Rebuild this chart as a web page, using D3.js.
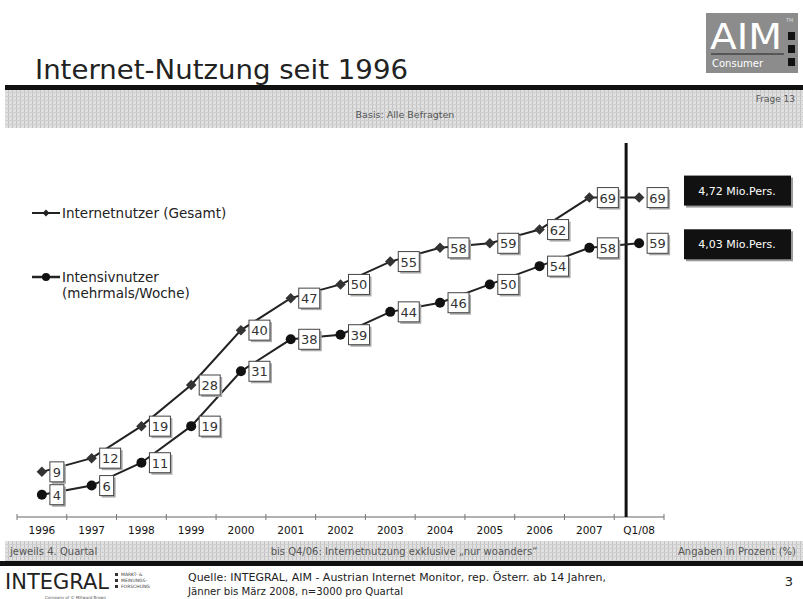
<!DOCTYPE html>
<html>
<head>
<meta charset="utf-8">
<script src="https://cdn.jsdelivr.net/npm/d3@7"></script>
<style>
	body { margin: 0; background: #fff; }
	svg text { font-family: "DejaVu Sans", Verdana, sans-serif; }
</style>
</head>
<body>
<div id="chart"></div>
<script>
var years = ["1996", "1997", "1998", "1999", "2000", "2001", "2002",
	"2003", "2004", "2005", "2006", "2007", "Q1/08"];
var gesamt = [9, 12, 19, 28, 40, 47, 50, 55, 58, 59, 62, 69, 69];
var intensiv = [4, 6, 11, 19, 31, 38, 39, 44, 46, 50, 54, 58, 59];
var seriesNames = ["Internetnutzer (Gesamt)", "Intensivnutzer", "(mehrmals/Woche)"];
var mioLabels = ["4,72 Mio.Pers.", "4,03 Mio.Pers."];

var width = 803,
	height = 599;

var svg = d3.select("#chart").append("svg")
	.attr("width", width)
	.attr("height", height);

// hatched grey band pattern
var defs = svg.append("defs");
var pat = defs.append("pattern")
	.attr("id", "grid")
	.attr("width", 4)
	.attr("height", 4)
	.attr("patternUnits", "userSpaceOnUse");
pat.append("rect").attr("width", 4).attr("height", 4).attr("fill", "#e0e0e0");
pat.append("rect").attr("x", 0).attr("width", 1).attr("height", 4).attr("fill", "#c2c2c2");
pat.append("rect").attr("y", 0).attr("width", 4).attr("height", 1).attr("fill", "#cfcfcf");

// header
svg.append("text")
	.attr("x", 35)
	.attr("y", 79)
	.attr("font-size", 27)
	.attr("fill", "#222")
	.attr("textLength", 373)
	.attr("lengthAdjust", "spacingAndGlyphs")
	.text("Internet-Nutzung seit 1996");

var logo = svg.append("g");
logo.append("rect")
	.attr("x", 706).attr("y", 13).attr("width", 92).attr("height", 60)
	.attr("fill", "#8c8c8c");
logo.append("text")
	.attr("x", 710).attr("y", 49)
	.attr("font-size", 36)
	.attr("font-family", "Liberation Sans, Arial, sans-serif")
	.attr("fill", "#fff")
	.attr("textLength", 72)
	.attr("lengthAdjust", "spacingAndGlyphs")
	.text("AIM");
logo.append("text")
	.attr("x", 786).attr("y", 22)
	.attr("font-size", 5)
	.attr("fill", "#ddd")
	.text("TM");
logo.append("line")
	.attr("x1", 711).attr("x2", 784).attr("y1", 54).attr("y2", 54)
	.attr("stroke", "#444").attr("stroke-width", 1.5);
logo.append("text")
	.attr("x", 712).attr("y", 67)
	.attr("font-size", 10)
	.attr("fill", "#fff")
	.text("Consumer");
[32, 45, 58].forEach(function(yy) {
	logo.append("rect")
		.attr("x", 788).attr("y", yy).attr("width", 7).attr("height", 8)
		.attr("fill", "#111");
});

svg.append("rect")
	.attr("x", 5).attr("y", 85).attr("width", 798).attr("height", 5)
	.attr("fill", "#111");
svg.append("rect")
	.attr("x", 5).attr("y", 90).attr("width", 798).attr("height", 38)
	.attr("fill", "url(#grid)");
svg.append("text")
	.attr("x", 795).attr("y", 102)
	.attr("text-anchor", "end")
	.attr("font-size", 9)
	.attr("fill", "#555")
	.text("Frage 13");
svg.append("text")
	.attr("x", 405).attr("y", 118)
	.attr("text-anchor", "middle")
	.attr("font-size", 9.5)
	.attr("fill", "#555")
	.text("Basis: Alle Befragten");

// scales
var x = d3.scaleBand()
	.domain(years)
	.range([17, 664]);

var y = d3.scaleLinear()
	.domain([0, 70])
	.range([513, 193]);

function cx(d, i) {
	return x(years[i]) + x.bandwidth() / 2;
}

// axis
var axisY = 517;
svg.append("line")
	.attr("x1", x.range()[0]).attr("x2", x.range()[1])
	.attr("y1", axisY).attr("y2", axisY)
	.attr("stroke", "#999").attr("stroke-width", 1.5);
svg.selectAll(".tk")
	.data(d3.range(years.length + 1))
	.enter()
	.append("line")
	.attr("x1", function(i) { return x.range()[0] + i * x.step(); })
	.attr("x2", function(i) { return x.range()[0] + i * x.step(); })
	.attr("y1", axisY - 3).attr("y2", axisY + 3)
	.attr("stroke", "#777");

var xAxis = svg.append("g")
	.attr("transform", "translate(0," + (axisY + 2) + ")")
	.call(d3.axisBottom(x).tickSize(0).tickPadding(8));
xAxis.select(".domain").remove();
xAxis.selectAll("text")
	.attr("font-size", 10.5)
	.attr("font-family", "DejaVu Sans, sans-serif")
	.attr("fill", "#111");

// vertical separator
svg.append("line")
	.attr("x1", x("Q1/08") + x.bandwidth() / 2 - 13)
	.attr("x2", x("Q1/08") + x.bandwidth() / 2 - 13)
	.attr("y1", 143).attr("y2", axisY)
	.attr("stroke", "#111").attr("stroke-width", 3);

// lines
var line = d3.line()
	.x(cx)
	.y(function(d) { return y(d); });

[gesamt, intensiv].forEach(function(series) {
	svg.append("path")
		.datum(series)
		.attr("d", line)
		.attr("fill", "none")
		.attr("stroke", "#222")
		.attr("stroke-width", 2);
});

var diamond = d3.symbol().type(d3.symbolDiamond2).size(70);

svg.selectAll(".mg")
	.data(gesamt)
	.enter()
	.append("path")
	.attr("d", diamond)
	.attr("transform", function(d, i) {
		return "translate(" + cx(d, i) + "," + y(d) + ")";
	})
	.attr("fill", "#333");

svg.selectAll(".mi")
	.data(intensiv)
	.enter()
	.append("circle")
	.attr("cx", cx)
	.attr("cy", function(d) { return y(d); })
	.attr("r", 5)
	.attr("fill", "#111");

// value boxes
function labels(series) {
	var g = svg.append("g");
	series.forEach(function(d, i) {
		var w = String(d).length > 1 ? 21 : 14;
		var bx = cx(d, i) + 8,
			by = y(d) - 10;
		g.append("rect")
			.attr("x", bx + 2).attr("y", by + 2)
			.attr("width", w).attr("height", 20)
			.attr("fill", "#aaa");
		g.append("rect")
			.attr("x", bx).attr("y", by)
			.attr("width", w).attr("height", 20)
			.attr("fill", "#fff")
			.attr("stroke", "#444")
			.attr("stroke-width", 1);
		g.append("text")
			.attr("x", bx + w / 2).attr("y", by + 15)
			.attr("text-anchor", "middle")
			.attr("font-size", 13)
			.attr("fill", "#333")
			.text(d);
	});
}
labels(gesamt);
labels(intensiv);

// Mio. boxes
[gesamt, intensiv].forEach(function(series, k) {
	var yy = y(series[series.length - 1]) + (k == 0 ? -7 : 1);
	svg.append("rect")
		.attr("x", 686).attr("y", yy - 13)
		.attr("width", 107).attr("height", 30)
		.attr("fill", "#999");
	svg.append("rect")
		.attr("x", 684).attr("y", yy - 15)
		.attr("width", 107).attr("height", 30)
		.attr("fill", "#111");
	svg.append("text")
		.attr("x", 737).attr("y", yy + 4)
		.attr("text-anchor", "middle")
		.attr("font-size", 11)
		.attr("fill", "#fff")
		.text(mioLabels[k]);
});

// legend
var leg = svg.append("g");
leg.append("line")
	.attr("x1", 32).attr("x2", 60).attr("y1", 213).attr("y2", 213)
	.attr("stroke", "#222").attr("stroke-width", 2);
leg.append("path")
	.attr("d", d3.symbol().type(d3.symbolDiamond2).size(30))
	.attr("transform", "translate(46,213)")
	.attr("fill", "#222");
leg.append("text")
	.attr("x", 62).attr("y", 218)
	.attr("font-size", 13.5)
	.attr("fill", "#222")
	.text(seriesNames[0]);
leg.append("line")
	.attr("x1", 32).attr("x2", 60).attr("y1", 277).attr("y2", 277)
	.attr("stroke", "#222").attr("stroke-width", 2.5);
leg.append("circle")
	.attr("cx", 46).attr("cy", 277).attr("r", 4)
	.attr("fill", "#111");
leg.append("text")
	.attr("x", 62).attr("y", 282)
	.attr("font-size", 13.5)
	.attr("fill", "#222")
	.text(seriesNames[1]);
leg.append("text")
	.attr("x", 62).attr("y", 298)
	.attr("font-size", 13.5)
	.attr("fill", "#222")
	.text(seriesNames[2]);

// footer band
svg.append("rect")
	.attr("x", 5).attr("y", 541).attr("width", 798).attr("height", 20)
	.attr("fill", "url(#grid)");
svg.append("text")
	.attr("x", 10).attr("y", 555)
	.attr("font-size", 10)
	.attr("fill", "#555")
	.text("jeweils 4. Quartal");
svg.append("text")
	.attr("x", 404).attr("y", 555)
	.attr("text-anchor", "middle")
	.attr("font-size", 10)
	.attr("fill", "#555")
	.text("bis Q4/06: Internetnutzung exklusive \u201Enur woanders\u201C");
svg.append("text")
	.attr("x", 796).attr("y", 555)
	.attr("text-anchor", "end")
	.attr("font-size", 10)
	.attr("fill", "#555")
	.text("Angaben in Prozent (%)");
svg.append("rect")
	.attr("x", 0).attr("y", 561).attr("width", 803).attr("height", 5)
	.attr("fill", "#111");

// footer logo + source
svg.append("text")
	.attr("x", 5).attr("y", 589)
	.attr("font-size", 21)
	.attr("font-family", "Liberation Sans, Arial, sans-serif")
	.attr("fill", "#222")
	.attr("textLength", 104)
	.attr("lengthAdjust", "spacingAndGlyphs")
	.text("INTEGRAL");
["MARKT- &", "MEINUNGS-", "FORSCHUNG"].forEach(function(t, i) {
	svg.append("rect")
		.attr("x", 115).attr("y", 573 + i * 6).attr("width", 3).attr("height", 3)
		.attr("fill", "#333");
	svg.append("text")
		.attr("x", 121).attr("y", 576 + i * 6)
		.attr("font-size", 4.5)
		.attr("fill", "#444")
		.text(t);
});
svg.append("text")
	.attr("x", 45).attr("y", 598.5)
	.attr("font-size", 4)
	.attr("fill", "#555")
	.text("Company of \u00A9 Millward Brown");

svg.append("text")
	.attr("x", 188).attr("y", 581)
	.attr("font-size", 10.5)
	.attr("fill", "#222")
	.attr("textLength", 418)
	.attr("lengthAdjust", "spacingAndGlyphs")
	.text("Quelle: INTEGRAL, AIM - Austrian Internet Monitor, rep. \u00D6sterr. ab 14 Jahren,");
svg.append("text")
	.attr("x", 188).attr("y", 595)
	.attr("font-size", 10.5)
	.attr("fill", "#222")
	.attr("textLength", 215)
	.attr("lengthAdjust", "spacingAndGlyphs")
	.text("J\u00E4nner bis M\u00E4rz 2008, n=3000 pro Quartal");
svg.append("text")
	.attr("x", 793).attr("y", 586)
	.attr("text-anchor", "end")
	.attr("font-size", 13)
	.attr("fill", "#222")
	.text("3");
</script>
</body>
</html>
